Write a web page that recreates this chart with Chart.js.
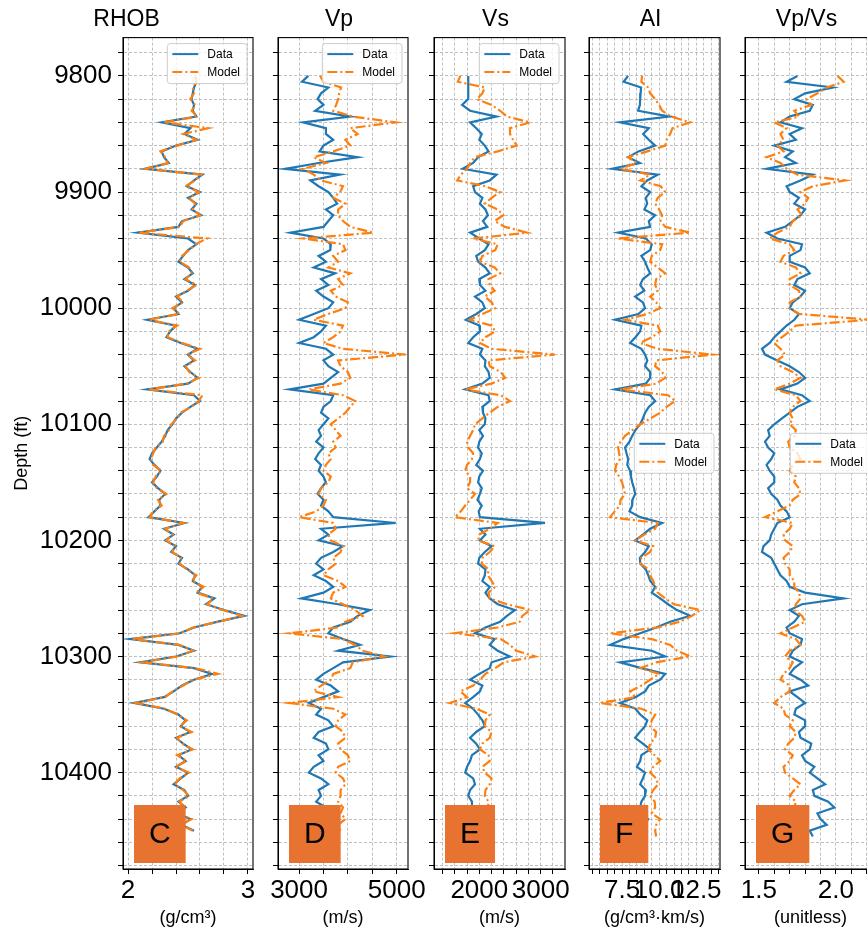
<!DOCTYPE html>
<html>
<head>
<meta charset="utf-8">
<title>Well logs</title>
<script src="https://cdn.jsdelivr.net/npm/chart.js@4.4.1/dist/chart.umd.min.js"></script>
<style>
  html, body { margin: 0; padding: 0; background: #fff; overflow: hidden; }
  #fig { position: relative; width: 867px; height: 933px; overflow: hidden; }
  #fig canvas { position: absolute; left: 0; top: 0; }
</style>
</head>
<body>
<div id="fig">
  <canvas id="pRhob" width="880" height="933"></canvas>
  <canvas id="pVp" width="880" height="933"></canvas>
  <canvas id="pVs" width="880" height="933"></canvas>
  <canvas id="pAi" width="880" height="933"></canvas>
  <canvas id="pVpvs" width="880" height="933"></canvas>
</div>
<script>
// depth samples (ft), one row per 50 ft
const depth = [
  9800, 9805, 9810, 9815, 9820, 9825, 9830, 9835, 9840, 9845,
  9850, 9855, 9860, 9865, 9870, 9875, 9880, 9885, 9890, 9895,
  9900, 9905, 9910, 9915, 9920, 9925, 9930, 9935, 9940, 9945,
  9950, 9955, 9960, 9965, 9970, 9975, 9980, 9985, 9990, 9995,
  10000, 10005, 10010, 10015, 10020, 10025, 10030, 10035, 10040, 10045,
  10050, 10055, 10060, 10065, 10070, 10075, 10080, 10085, 10090, 10095,
  10100, 10105, 10110, 10115, 10120, 10125, 10130, 10135, 10140, 10145,
  10150, 10155, 10160, 10165, 10170, 10175, 10180, 10185, 10190, 10195,
  10200, 10205, 10210, 10215, 10220, 10225, 10230, 10235, 10240, 10245,
  10250, 10255, 10260, 10265, 10270, 10275, 10280, 10285, 10290, 10295,
  10300, 10305, 10310, 10315, 10320, 10325, 10330, 10335, 10340, 10345,
  10350, 10355, 10360, 10365, 10370, 10375, 10380, 10385, 10390, 10395,
  10400, 10405, 10410, 10415, 10420, 10425, 10430, 10435, 10440, 10445,
  10450, 10455];

// bulk density (g/cm3)
const rhobData = [
  null, 2.57, 2.55, 2.54, 2.53, 2.55, 2.54, 2.57, 2.28, 2.52,
  2.47, 2.58, 2.40, 2.28, 2.30, 2.34, 2.14, 2.62, 2.55, 2.49,
  2.60, 2.50, 2.57, 2.53, 2.61, 2.45, 2.42, 2.08, 2.50, 2.57,
  2.50, 2.46, 2.42, 2.50, 2.54, 2.47, 2.56, 2.50, 2.40, 2.45,
  2.38, 2.42, 2.16, 2.40, 2.35, 2.32, 2.44, 2.58, 2.50, 2.55,
  2.47, 2.52, 2.58, 2.50, 2.16, 2.55, 2.60, 2.52, 2.45, 2.40,
  2.37, 2.33, 2.31, 2.28, 2.24, 2.20, 2.18, 2.22, 2.27, 2.24,
  2.20, 2.25, 2.31, 2.26, 2.27, 2.22, 2.17, 2.47, 2.30, 2.38,
  2.31, 2.40, 2.36, 2.45, 2.42, 2.50, 2.56, 2.54, 2.62, 2.58,
  2.72, 2.65, 2.80, 2.97, 2.75, 2.55, 2.43, 2.02, 2.42, 2.55,
  2.40, 2.10, 2.55, 2.70, 2.55, 2.45, 2.38, 2.30, 2.05, 2.30,
  2.42, 2.48, 2.44, 2.52, 2.40, 2.46, 2.53, 2.42, 2.48, 2.40,
  2.50, 2.44, 2.38, 2.47, 2.50, 2.42, 2.48, 2.40, 2.52, 2.45,
  2.55, null];
const rhobModel = [
  2.56, 2.57, 2.54, 2.55, 2.52, 2.56, 2.53, 2.58, 2.30, 2.67,
  2.46, 2.57, 2.41, 2.27, 2.31, 2.33, 2.15, 2.61, 2.56, 2.48,
  2.59, 2.51, 2.56, 2.54, 2.60, 2.46, 2.43, 2.09, 2.66, 2.56,
  2.51, 2.45, 2.43, 2.51, 2.53, 2.48, 2.57, 2.49, 2.41, 2.46,
  2.37, 2.43, 2.17, 2.41, 2.34, 2.33, 2.45, 2.60, 2.49, 2.56,
  2.48, 2.51, 2.59, 2.49, 2.17, 2.62, 2.59, 2.53, 2.44, 2.41,
  2.36, 2.34, 2.30, 2.29, 2.23, 2.21, 2.19, 2.21, 2.28, 2.23,
  2.21, 2.24, 2.32, 2.25, 2.28, 2.21, 2.18, 2.46, 2.31, 2.37,
  2.32, 2.39, 2.37, 2.44, 2.43, 2.49, 2.57, 2.53, 2.63, 2.57,
  2.71, 2.66, 2.79, 2.95, 2.76, 2.54, 2.44, 2.03, 2.43, 2.54,
  2.41, 2.12, 2.56, 2.75, 2.54, 2.46, 2.37, 2.31, 2.07, 2.31,
  2.41, 2.49, 2.43, 2.53, 2.41, 2.45, 2.54, 2.41, 2.49, 2.39,
  2.51, 2.43, 2.39, 2.46, 2.51, 2.43, 2.47, 2.41, 2.53, 2.44,
  2.54, null];

// P-wave velocity (m/s)
const vpData = [
  3190, 3060, 3600, 3450, 3380, 3500, 3330, 4050, 3080, 3550,
  3550, 3700, 3500, 3420, 4200, 3400, 2710, 3840, 3230, 3400,
  3600, 3700, 3780, 3550, 3700, 3600, 3500, 2820, 3500, 3650,
  3640, 3400, 3550, 3300, 3740, 3450, 3600, 3350, 3500, 3700,
  3600, 3300, 3000, 3550, 3450, 3300, 3000, 3550, 3700, 3500,
  3600, 3800, 3650, 3500, 2800, 3700, 3650, 3500, 3450, 3600,
  3500, 3400, 3450, 3350, 3500, 3400, 3330, 3450, 3400, 3500,
  3550, 3450, 3380, 3500, 3450, 3600, 3700, 4980, 3450, 3600,
  3400, 3900, 3700, 3450, 3350, 3500, 3300, 3550, 3700, 3500,
  3050, 3800, 4450, 4200, 4050, 3700, 3600, 3900, 4250, 3800,
  4870, 3900, 3700, 3500, 3350, 3650, 3800, 3500, 3200, 3450,
  3350, 3600, 3700, 3400, 3300, 3550, 3600, 3400, 3500, 3300,
  3200, 3450, 3600, 3400, 3450, 3350, 3550, 3500, 3650, 3550,
  3600, 3650];
const vpModel = [
  3430, 3500, 3860, 3820, 3800, 3760, 3700, 4100, 4980, 4050,
  4200, 3950, 4050, 3700, 3300, 3550, 3080, 3300, 3450, 3900,
  3840, 3700, 3950, 3800, 3800, 3900, 4050, 4520, 3100, 3900,
  3950, 3700, 3800, 3600, 4050, 3800, 3900, 3650, 3750, 4000,
  3950, 3600, 3300, 3900, 3850, 3700, 3500, 3900, 5180, 3800,
  3850, 4000, 4050, 3850, 3200, 3900, 4150, 4050, 3950, 3800,
  3650, 3750, 3850, 3700, 3750, 3600, 3650, 3550, 3500, 3650,
  3600, 3450, 3400, 3550, 3500, 3350, 3000, 3700, 3750, 3600,
  3650, 3900, 3850, 3700, 3750, 3600, 3500, 3800, 3950, 3700,
  3650, 3900, 4150, 4300, 3950, 3800, 2800, 3900, 4150, 4300,
  4750, 4100, 4050, 3700, 3650, 3450, 3300, 3800, 2800, 3700,
  3950, 3800, 3750, 3900, 3950, 3800, 3850, 4000, 4050, 3800,
  3750, 3900, 3950, 3850, 3850, 3800, 3900, 3850, 3950, 3800,
  3850, 3800];

// S-wave velocity (m/s)
const vsData = [
  1820, 1820, 1820, 1820, 1820, 1720, 1850, 2280, 1850, 1950,
  2040, 2000, 2090, 2150, 1980, 1900, 1730, 2280, 2170, 1900,
  1930, 2050, 2010, 2100, 2140, 2060, 2130, 1850, 2000, 2150,
  2090, 1950, 1980, 2100, 2170, 2000, 2010, 2100, 1930, 2050,
  2090, 1950, 1780, 2000, 2010, 1900, 1820, 2050, 2010, 2100,
  2090, 2150, 2170, 2050, 1770, 2150, 2170, 2050, 2060, 2100,
  2090, 2000, 2060, 2000, 1980, 2040, 2010, 1950, 2060, 2000,
  1980, 2040, 2010, 1970, 2040, 1990, 2010, 3070, 2010, 2100,
  2010, 2200, 2090, 2000, 1980, 2100, 2090, 2050, 2170, 2100,
  2170, 2300, 2580, 2450, 2340, 2100, 1930, 2250, 2170, 2300,
  2500, 2200, 2170, 2000, 1850, 2050, 2010, 1900, 1770, 1900,
  1980, 2050, 2090, 1950, 1850, 1950, 2010, 1880, 1850, 1800,
  1770, 1900, 1930, 1850, 1820, 1880, 1880, 1800, 1850, 1900,
  1930, 1950];
const vsModel = [
  1690, 1650, 2090, 2050, 1960, 2200, 2340, 2450, 2830, 2500,
  2500, 2550, 2610, 2300, 1930, 1850, 1800, 1700, 1640, 2100,
  2340, 2200, 2090, 2300, 2390, 2250, 2420, 2780, 1900, 2300,
  2260, 2050, 2010, 2250, 2340, 2150, 2170, 2250, 2090, 2200,
  2260, 2050, 1850, 2200, 2260, 2100, 2010, 2200, 3230, 2150,
  2170, 2350, 2420, 2200, 1770, 2350, 2500, 2300, 2170, 2050,
  1930, 1900, 1850, 1800, 1820, 1900, 1880, 1800, 1770, 1850,
  1850, 1800, 1930, 1850, 1770, 1700, 1600, 2300, 2170, 2000,
  1980, 2250, 2170, 2050, 2040, 2150, 2140, 2200, 2260, 2150,
  2170, 2450, 2830, 2700, 2660, 2300, 1600, 2350, 2500, 2600,
  2910, 2400, 2260, 2100, 2010, 1900, 1690, 1800, 1520, 1950,
  2170, 2100, 2090, 2200, 2170, 2050, 2010, 2150, 2170, 2050,
  2090, 2200, 2170, 2100, 2090, 2150, 2140, 2100, 2170, 2200,
  2140, 2200];

// acoustic impedance (g/cm3 * km/s)
const aiData = [
  7.91, 7.60, 8.78, 8.75, 8.72, 8.70, 8.58, 10.70, 7.36, 9.30,
  8.92, 9.30, 9.73, 8.60, 7.91, 8.70, 6.82, 9.90, 9.19, 8.80,
  9.39, 9.10, 9.19, 9.00, 9.73, 9.30, 9.39, 7.23, 9.10, 9.50,
  9.39, 8.80, 9.05, 9.20, 9.39, 8.90, 8.72, 9.00, 8.38, 8.90,
  9.05, 8.60, 7.03, 8.80, 8.72, 8.40, 8.04, 8.80, 9.05, 9.20,
  9.05, 9.40, 9.39, 9.10, 7.03, 9.40, 9.73, 9.30, 9.05, 8.90,
  8.72, 8.40, 8.18, 8.00, 7.70, 7.80, 7.91, 7.85, 8.04, 8.10,
  8.18, 8.30, 8.38, 8.20, 8.18, 8.00, 8.72, 10.20, 9.39, 8.90,
  8.38, 9.30, 9.05, 8.70, 8.72, 9.10, 9.26, 9.40, 9.73, 9.50,
  10.07, 10.60, 11.20, 12.09, 10.74, 9.80, 8.72, 7.60, 6.69, 9.50,
  10.41, 7.36, 8.80, 10.40, 10.07, 9.30, 9.05, 8.40, 7.36, 8.40,
  8.72, 9.20, 9.05, 8.70, 8.38, 8.90, 9.39, 8.80, 8.72, 8.50,
  9.05, 8.90, 8.72, 9.10, 9.05, 8.80, 8.72, 8.60, 9.26, 9.00,
  9.05, 9.10];
const aiModel = [
  8.85, 8.80, 9.26, 9.40, 9.73, 10.00, 10.20, 10.80, 12.09, 10.90,
  10.74, 10.50, 10.41, 9.20, 7.91, 8.50, 7.36, 9.40, 8.72, 10.10,
  10.41, 9.90, 9.73, 10.00, 10.20, 10.10, 10.41, 12.09, 7.20, 10.20,
  10.07, 9.50, 9.39, 9.90, 10.41, 9.80, 9.73, 9.90, 9.39, 9.80,
  10.07, 9.20, 7.70, 9.90, 10.07, 9.50, 8.72, 9.90, 13.58, 9.80,
  9.73, 10.20, 10.41, 9.80, 7.36, 10.60, 11.08, 10.50, 10.07, 9.40,
  8.72, 8.20, 7.70, 7.40, 7.23, 7.30, 7.36, 7.10, 7.03, 7.30,
  7.50, 7.60, 7.70, 7.40, 7.36, 7.00, 6.69, 9.90, 9.73, 9.00,
  8.38, 9.60, 9.39, 8.80, 8.72, 9.30, 9.39, 9.60, 9.73, 9.90,
  10.41, 11.00, 12.77, 12.20, 11.42, 9.90, 6.69, 9.50, 10.74, 11.20,
  12.09, 9.80, 8.72, 10.00, 9.39, 8.80, 8.04, 8.40, 6.01, 8.80,
  9.73, 9.50, 9.39, 9.80, 9.73, 9.40, 9.26, 9.70, 10.07, 9.60,
  9.39, 9.80, 9.93, 9.60, 9.39, 9.70, 9.73, 9.50, 10.07, 9.80,
  9.73, 9.80];

// velocity ratio (unitless)
const vpvsData = [
  1.75, 1.68, 1.98, 1.80, 1.73, 1.85, 1.83, 1.70, 1.64, 1.78,
  1.70, 1.74, 1.60, 1.72, 1.67, 1.74, 1.55, 1.85, 1.77, 1.68,
  1.70, 1.76, 1.73, 1.80, 1.77, 1.72, 1.67, 1.55, 1.62, 1.78,
  1.77, 1.70, 1.70, 1.80, 1.83, 1.75, 1.73, 1.80, 1.77, 1.72,
  1.70, 1.76, 1.73, 1.68, 1.64, 1.60, 1.57, 1.52, 1.54, 1.62,
  1.70, 1.76, 1.80, 1.75, 1.64, 1.78, 1.83, 1.75, 1.70, 1.65,
  1.60, 1.56, 1.57, 1.54, 1.56, 1.60, 1.58, 1.55, 1.57, 1.60,
  1.60, 1.56, 1.58, 1.62, 1.64, 1.68, 1.70, 1.62, 1.60, 1.58,
  1.57, 1.53, 1.52, 1.58, 1.60, 1.62, 1.64, 1.68, 1.70, 1.80,
  2.05, 1.78, 1.70, 1.76, 1.73, 1.68, 1.70, 1.78, 1.77, 1.72,
  1.70, 1.78, 1.73, 1.70, 1.77, 1.82, 1.70, 1.75, 1.80, 1.74,
  1.73, 1.80, 1.80, 1.76, 1.77, 1.84, 1.83, 1.78, 1.80, 1.86,
  1.83, 1.88, 1.93, 1.85, 1.86, 1.95, 1.99, 1.88, 1.90, 1.94,
  1.83, 1.85];
const vpvsModel = [
  2.01, 2.05, 1.94, 1.88, 1.81, 1.84, 1.73, 1.76, 1.60, 1.68,
  1.64, 1.66, 1.62, 1.66, 1.55, 1.64, 1.68, 1.75, 2.06, 1.85,
  1.77, 1.82, 1.80, 1.75, 1.78, 1.72, 1.70, 1.62, 1.57, 1.70,
  1.73, 1.66, 1.64, 1.74, 1.77, 1.70, 1.70, 1.76, 1.77, 1.70,
  1.70, 1.76, 2.22, 1.74, 1.70, 1.65, 1.60, 1.64, 1.67, 1.62,
  1.64, 1.72, 1.77, 1.70, 1.60, 1.74, 1.77, 1.72, 1.70, 1.72,
  1.70, 1.74, 1.73, 1.69, 1.70, 1.75, 1.77, 1.72, 1.70, 1.74,
  1.73, 1.76, 1.77, 1.72, 1.70, 1.62, 1.54, 1.72, 1.70, 1.66,
  1.67, 1.72, 1.70, 1.66, 1.67, 1.70, 1.70, 1.73, 1.73, 1.76,
  1.77, 1.74, 1.73, 1.78, 1.80, 1.72, 1.64, 1.74, 1.77, 1.70,
  1.67, 1.72, 1.70, 1.66, 1.64, 1.70, 1.70, 1.64, 1.60, 1.66,
  1.67, 1.72, 1.70, 1.74, 1.73, 1.69, 1.67, 1.72, 1.70, 1.66,
  1.67, 1.72, 1.77, 1.73, 1.70, 1.74, 1.73, 1.76, 1.70, 1.72,
  1.67, 1.70];

// axis ticks
const depthTicks = [9780, 9800, 9820, 9840, 9860, 9880, 9900, 9920, 9940, 9960,
  9980, 10000, 10020, 10040, 10060, 10080, 10100, 10120, 10140, 10160,
  10180, 10200, 10220, 10240, 10260, 10280, 10300, 10320, 10340, 10360,
  10380, 10400, 10420, 10440, 10460, 10480];
const depthLabels = [9800, 9900, 10000, 10100, 10200, 10300, 10400];

const rhobTicks = [2.0, 2.2, 2.4, 2.6, 2.8, 3.0];
const rhobMajor = [2, 3];
const rhobMajorText = ['2', '3'];
const vpTicks = [3000, 3500, 4000, 4500, 5000];
const vpMajor = [3000, 5000];
const vpMajorText = ['3000', '5000'];
const vsTicks = [1400, 1600, 1800, 2000, 2200, 2400, 2600, 2800, 3000, 3200];
const vsMajor = [2000, 3000];
const vsMajorText = ['2000', '3000'];
const aiTicks = [5.5, 6.0, 6.5, 7.0, 7.5, 8.0, 8.5, 9.0, 9.5, 10.0, 10.5, 11.0,
  11.5, 12.0, 12.5, 13.0, 13.5, 14.0];
const aiMajor = [7.5, 10, 12.5];
const aiMajorText = ['7.5', '10.0', '12.5'];
const vpvsTicks = [1.5, 1.6, 1.7, 1.8, 1.9, 2.0, 2.1, 2.2];
const vpvsMajor = [1.5, 2.0];
const vpvsMajorText = ['1.5', '2.0'];

const BLUE = '#1f77b4';
const ORANGE = '#ff7f0e';
const TAG = '#e8722f';
const GRID = '#b0b0b0';
const FONT = '"Liberation Sans", Arial, sans-serif';
const DASH_DOT = [10, 3, 2, 3];

Chart.defaults.font.family = FONT;
Chart.defaults.color = '#000';

// black box round the plotting area
const frame = {
  id: 'frame',
  afterDraw(chart) {
    const { ctx, chartArea: a } = chart;
    ctx.save();
    ctx.strokeStyle = '#000';
    ctx.lineWidth = 1.1;
    ctx.strokeRect(a.left, a.top, a.right - a.left, a.bottom - a.top);
    ctx.restore();
  }
};

// small legend in the style of matplotlib
const legendBox = {
  id: 'legendBox',
  afterDatasetsDraw(chart, args, o) {
    const { ctx, chartArea: a } = chart;
    const sets = chart.data.datasets;
    ctx.save();
    ctx.font = '12px ' + FONT;
    const tw = Math.max(...sets.map(s => ctx.measureText(s.label).width));
    const w = 5 + 26 + 9 + tw + 7;
    const h = 40;
    const x0 = a.right - 6 - w;
    const y0 = o.place === 'top' ? a.top + 6 : (a.top + a.bottom) / 2 - h / 2;
    ctx.beginPath();
    ctx.roundRect(x0, y0, w, h, 3);
    ctx.fillStyle = 'rgba(255,255,255,0.8)';
    ctx.fill();
    ctx.strokeStyle = '#cccccc';
    ctx.lineWidth = 1;
    ctx.stroke();
    sets.forEach((s, i) => {
      const yy = y0 + 10.5 + i * 18;
      ctx.beginPath();
      ctx.setLineDash(s.borderDash || []);
      ctx.strokeStyle = s.borderColor;
      ctx.lineWidth = 2;
      ctx.moveTo(x0 + 5, yy);
      ctx.lineTo(x0 + 31, yy);
      ctx.stroke();
      ctx.setLineDash([]);
      ctx.fillStyle = '#000';
      ctx.textBaseline = 'middle';
      ctx.fillText(s.label, x0 + 40, yy + 1);
    });
    ctx.restore();
  }
};

// lettered tag in the lower left corner of each track
const tagBox = {
  id: 'tagBox',
  afterDatasetsDraw(chart, args, o) {
    const { ctx, chartArea: a } = chart;
    ctx.save();
    ctx.font = '30px ' + FONT;
    const tw = ctx.measureText(o.text).width;
    const w = tw + 30;
    const x0 = a.left + 11;
    const y0 = a.bottom - 64;
    const h = 58;
    ctx.fillStyle = TAG;
    ctx.fillRect(x0, y0, w, h);
    ctx.fillStyle = '#000';
    ctx.textAlign = 'center';
    ctx.textBaseline = 'middle';
    ctx.fillText(o.text, x0 + w / 2, y0 + h / 2 + 1);
    ctx.restore();
  }
};

function pairs(values) {
  return depth.map((d, i) => ({ x: values[i], y: d })).filter(p => p.x !== null);
}

function track(id, cfg) {
  const isMajor = (v) => cfg.major.findIndex(m => Math.abs(m - v) < 1e-6);
  new Chart(document.getElementById(id), {
    type: 'scatter',
    data: {
      datasets: [
        {
          label: 'Data', data: pairs(cfg.data), showLine: true,
          borderColor: BLUE, borderWidth: 2.2, pointRadius: 0, order: 1
        },
        {
          label: 'Model', data: pairs(cfg.model), showLine: true,
          borderColor: ORANGE, borderWidth: 2.2, borderDash: DASH_DOT,
          pointRadius: 0, order: 0
        }
      ]
    },
    options: {
      responsive: false,
      animation: false,
      events: [],
      layout: { padding: { left: cfg.left - cfg.yw, right: 880 - cfg.right, top: 0, bottom: 0 } },
      plugins: {
        legend: { display: false },
        tooltip: { enabled: false },
        title: {
          display: true, text: cfg.title, color: '#000',
          font: { size: 23, weight: 'normal' }, padding: { top: 6, bottom: 4 }
        },
        legendBox: { place: cfg.legend },
        tagBox: { text: cfg.tag }
      },
      scales: {
        x: {
          type: 'linear', position: 'bottom', min: cfg.xmin, max: cfg.xmax,
          afterBuildTicks: s => { s.ticks = cfg.ticks.map(v => ({ value: v })); },
          afterFit: s => { s.height = 64; },
          ticks: {
            autoSkip: false, maxRotation: 0, minRotation: 0, padding: 1,
            font: { size: 26 }, color: '#000',
            callback: v => { const k = isMajor(v); return k >= 0 ? cfg.majorText[k] : ''; }
          },
          grid: { color: GRID, lineWidth: 0.8, tickColor: '#000', tickLength: 5, tickWidth: 1 },
          border: { color: '#000', width: 1, dash: [3, 2] },
          title: {
            display: true, text: cfg.unit, color: '#000',
            font: { size: 18 }, padding: { top: 0, bottom: 4 }
          }
        },
        y: {
          type: 'linear', reverse: true, min: 9767, max: 10483,
          afterBuildTicks: s => { s.ticks = depthTicks.map(v => ({ value: v })); },
          afterFit: s => { s.width = cfg.yw; },
          ticks: {
            display: cfg.depthAxis, autoSkip: false, padding: 6,
            font: { size: 26 }, color: '#000',
            callback: v => depthLabels.includes(v) ? String(v) : ''
          },
          grid: { color: GRID, lineWidth: 0.8, tickColor: '#000', tickLength: 5, tickWidth: 1 },
          border: { color: '#000', width: 1, dash: [3, 2] },
          title: {
            display: cfg.depthAxis, text: 'Depth (ft)', color: '#000',
            font: { size: 18 }, padding: { top: 11, bottom: 0 }
          }
        }
      }
    },
    plugins: [legendBox, tagBox, frame]
  });
}

track('pRhob', {
  title: 'RHOB', unit: '(g/cm³)', tag: 'C', legend: 'top',
  left: 123, right: 253, yw: 123, depthAxis: true,
  xmin: 1.958, xmax: 3.042,
  ticks: rhobTicks, major: rhobMajor, majorText: rhobMajorText,
  data: rhobData, model: rhobModel
});
track('pVp', {
  title: 'Vp', unit: '(m/s)', tag: 'D', legend: 'top',
  left: 278, right: 408, yw: 8, depthAxis: false,
  xmin: 2568, xmax: 5232,
  ticks: vpTicks, major: vpMajor, majorText: vpMajorText,
  data: vpData, model: vpModel
});
track('pVs', {
  title: 'Vs', unit: '(m/s)', tag: 'E', legend: 'top',
  left: 434, right: 565, yw: 8, depthAxis: false,
  xmin: 1262, xmax: 3396,
  ticks: vsTicks, major: vsMajor, majorText: vsMajorText,
  data: vsData, model: vsModel
});
track('pAi', {
  title: 'AI', unit: '(g/cm³·km/s)', tag: 'F', legend: 'center',
  left: 589, right: 720, yw: 8, depthAxis: false,
  xmin: 5.27, xmax: 14.1,
  ticks: aiTicks, major: aiMajor, majorText: aiMajorText,
  data: aiData, model: aiModel
});
track('pVpvs', {
  title: 'Vp/Vs', unit: '(unitless)', tag: 'G', legend: 'center',
  left: 745, right: 876, yw: 8, depthAxis: false,
  xmin: 1.41, xmax: 2.26,
  ticks: vpvsTicks, major: vpvsMajor, majorText: vpvsMajorText,
  data: vpvsData, model: vpvsModel
});
</script>
</body>
</html>
